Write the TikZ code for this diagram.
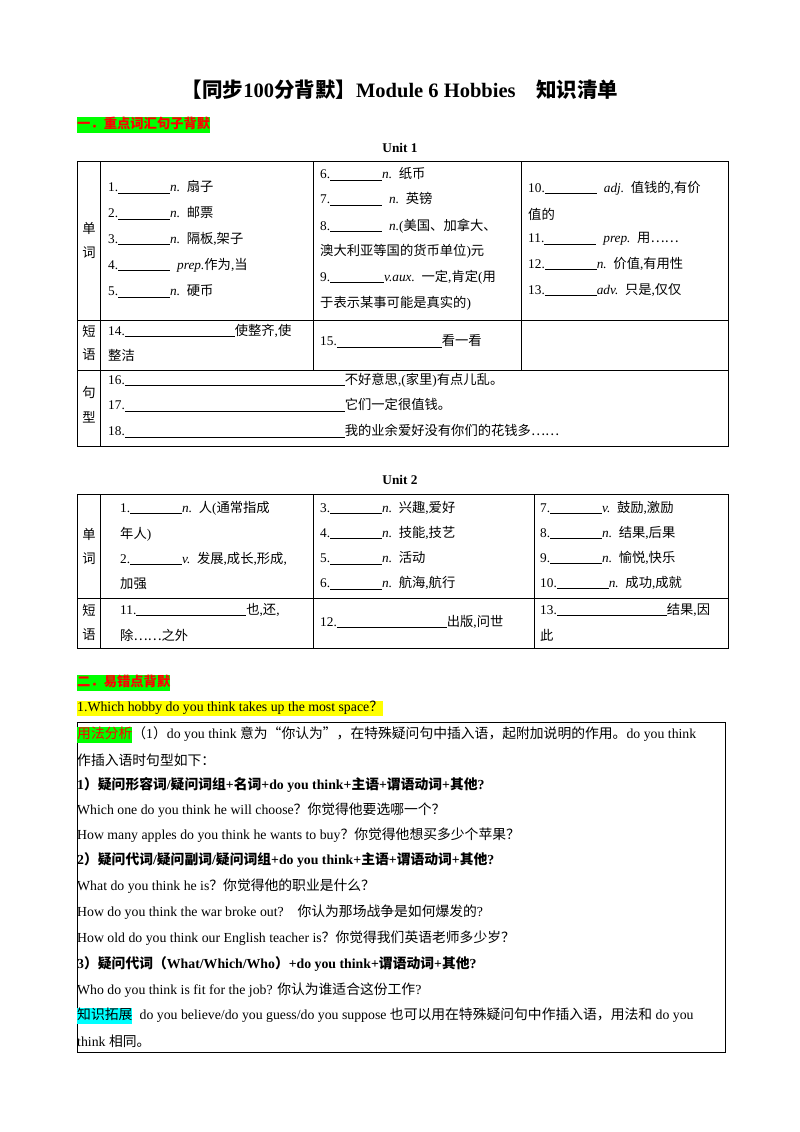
\documentclass[tikz,border=0pt]{standalone}
\usepackage{fontspec}
\setmainfont{Liberation Serif}
\newfontfamily\cjk{Noto Sans CJK SC}
\XeTeXinterchartokenstate=1
\newXeTeXintercharclass\CJKcls
\def\setcls#1#2{\count255=#1 \loop\XeTeXcharclass\count255=\CJKcls \advance\count255 1 \ifnum\count255<#2 \repeat}
\setcls{"4E00}{"9FFF}
\setcls{"3000}{"3040}
\setcls{"FF01}{"FF5F}
\XeTeXcharclass"2026=\CJKcls
\XeTeXcharclass"201C=\CJKcls
\XeTeXcharclass"201D=\CJKcls
\XeTeXinterchartoks 0 \CJKcls={\cjk}
\XeTeXinterchartoks 4095 \CJKcls={\cjk}
\XeTeXinterchartoks \CJKcls 0={\rmfamily}
\XeTeXinterchartoks \CJKcls 4095={\rmfamily}
\newcommand\bl[1]{\rule[-1.5pt]{#1pt}{0.6pt}}
\newcommand\hl[2]{{\fboxsep=0pt\colorbox{#1}{\strut #2}}}
\definecolor{hgreen}{RGB}{0,255,0}
\definecolor{hcyan}{RGB}{0,255,255}
\definecolor{hyel}{RGB}{255,255,0}
\begin{document}
\begin{tikzpicture}[x=1pt,y=-1pt,
  t/.style={anchor=west,inner sep=0pt,font=\fontsize{13.3}{15}\selectfont},
  tb/.style={anchor=west,inner sep=0pt,font=\fontsize{13.8}{15}\selectfont},
  lab/.style={anchor=center,inner sep=0pt,font=\fontsize{13.3}{15}\selectfont},
  grid/.style={draw=black,line width=0.6pt}]
\useasboundingbox[fill=white] (0,0) rectangle (800,1132);
\node[anchor=center,inner sep=0pt,font=\fontsize{20.5}{24}\selectfont\bfseries] (title) at (400,90) {【同步100分背默】Module 6 Hobbies\quad 知识清单};
\node[t,font=\fontsize{13.3}{15}\selectfont\bfseries] (h1) at (77,125) {\hl{hgreen}{\color{red}一．重点词汇句子背默}};
\node[lab,font=\fontsize{13.3}{15}\selectfont\bfseries] (u1) at (400,148) {Unit 1};
% Unit 1 table
\draw[grid] (77,161) rectangle (728,446);
\draw[grid] (77,320) -- (728,320) (77,370) -- (728,370);
\draw[grid] (100,161) -- (100,446) (313,161) -- (313,370) (521,161) -- (521,370);
\node[lab] (a1) at (89,228) {单}; \node[lab] (a2) at (89,253) {词};
\node[lab] (a3) at (89,331) {短}; \node[lab] (a4) at (89,355) {语};
\node[lab] (a5) at (89,392) {句}; \node[lab] (a6) at (89,417) {型};
\node[t] (w1) at (108,187) {1.\bl{52}\textit{n.}\, 扇子};
\node[t] (w2) at (108,213) {2.\bl{52}\textit{n.}\, 邮票};
\node[t] (w3) at (108,239) {3.\bl{52}\textit{n.}\, 隔板,架子};
\node[t] (w4) at (108,265) {4.\bl{52}\; \textit{prep.}作为,当};
\node[t] (w5) at (108,291) {5.\bl{52}\textit{n.}\, 硬币};
\node[t] (w6) at (320,174) {6.\bl{52}\textit{n.}\, 纸币};
\node[t] (w7) at (320,199) {7.\bl{52}\; \textit{n.}\, 英镑};
\node[t] (w8) at (320,226) {8.\bl{52}\; \textit{n.}(美国、加拿大、};
\node[t] (w8b) at (320,251) {澳大利亚等国的货币单位)元};
\node[t] (w9) at (320,277) {9.\bl{54}\textit{v.aux.}\, 一定,肯定(用};
\node[t] (w9b) at (320,303) {于表示某事可能是真实的)};
\node[t] (w10) at (528,188) {10.\bl{52}\; \textit{adj.}\, 值钱的,有价};
\node[t] (w10b) at (528,214) {值的};
\node[t] (w11) at (528,239) {11.\bl{52}\; \textit{prep.}\, 用……};
\node[t] (w12) at (528,264) {12.\bl{52}\textit{n.}\, 价值,有用性};
\node[t] (w13) at (528,290) {13.\bl{52}\textit{adv.}\, 只是,仅仅};
\node[t] (p14) at (108,331) {14.\bl{110}使整齐,使};
\node[t] (p14b) at (108,355) {整洁};
\node[t] (p15) at (320,341) {15.\bl{105}看一看};
\node[t] (s16) at (108,380) {16.\bl{220}不好意思,(家里)有点儿乱。};
\node[t] (s17) at (108,405) {17.\bl{220}它们一定很值钱。};
\node[t] (s18) at (108,431) {18.\bl{220}我的业余爱好没有你们的花钱多……};
% Unit 2
\node[lab,font=\fontsize{13.3}{15}\selectfont\bfseries] (u2) at (400,480) {Unit 2};
\draw[grid] (77,494) rectangle (728,648);
\draw[grid] (77,598) -- (728,598);
\draw[grid] (100,494) -- (100,648) (313,494) -- (313,648) (534,494) -- (534,648);
\node[lab] (b1) at (89,534) {单}; \node[lab] (b2) at (89,559) {词};
\node[lab] (b3) at (89,610) {短}; \node[lab] (b4) at (89,635) {语};
\node[t] (v1) at (120,508) {1.\bl{52}\textit{n.}\, 人(通常指成};
\node[t] (v1b) at (120,534) {年人)};
\node[t] (v2) at (120,559) {2.\bl{52}\textit{v.}\, 发展,成长,形成,};
\node[t] (v2b) at (120,584) {加强};
\node[t] (v3) at (320,508) {3.\bl{52}\textit{n.}\, 兴趣,爱好};
\node[t] (v4) at (320,533) {4.\bl{52}\textit{n.}\, 技能,技艺};
\node[t] (v5) at (320,558) {5.\bl{52}\textit{n.}\, 活动};
\node[t] (v6) at (320,583) {6.\bl{52}\textit{n.}\, 航海,航行};
\node[t] (v7) at (540,508) {7.\bl{52}\textit{v.}\, 鼓励,激励};
\node[t] (v8) at (540,533) {8.\bl{52}\textit{n.}\, 结果,后果};
\node[t] (v9) at (540,558) {9.\bl{52}\textit{n.}\, 愉悦,快乐};
\node[t] (v10) at (540,583) {10.\bl{52}\textit{n.}\, 成功,成就};
\node[t] (q11) at (120,610) {11.\bl{110}也,还,};
\node[t] (q11b) at (120,635) {除……之外};
\node[t] (q12) at (320,622) {12.\bl{110}出版,问世};
\node[t] (q13) at (540,610) {13.\bl{110}结果,因};
\node[t] (q13b) at (540,635) {此};
% Section 2
\node[t,font=\fontsize{13.3}{15}\selectfont\bfseries] (h2) at (77,683) {\hl{hgreen}{\color{red}二．易错点背默}};
\node[tb] (q1) at (77,708) {\hl{hyel}{1.Which hobby do you think takes up the most space？}};
\draw[grid] (77,722) rectangle (725,1052);
\node[tb] (l1) at (77,735) {\hl{hgreen}{\color{red}用法分析}（1）do you think 意为“你认为”，在特殊疑问句中插入语，起附加说明的作用。do you think};
\node[tb] (l2) at (77,760) {作插入语时句型如下：};
\node[tb,font=\fontsize{13.8}{15}\selectfont\bfseries] (l3) at (77,785) {1）疑问形容词/疑问词组+名词+do you think+主语+谓语动词+其他?};
\node[tb] (l4) at (77,810) {Which one do you think he will choose？你觉得他要选哪一个？};
\node[tb] (l5) at (77,835) {How many apples do you think he wants to buy？你觉得他想买多少个苹果？};
\node[tb,font=\fontsize{13.8}{15}\selectfont\bfseries] (l6) at (77,860) {2）疑问代词/疑问副词/疑问词组+do you think+主语+谓语动词+其他?};
\node[tb] (l7) at (77,886) {What do you think he is？你觉得他的职业是什么？};
\node[tb] (l8) at (77,912) {How do you think the war broke out?\quad 你认为那场战争是如何爆发的?};
\node[tb] (l9) at (77,938) {How old do you think our English teacher is？你觉得我们英语老师多少岁？};
\node[tb,font=\fontsize{13.8}{15}\selectfont\bfseries] (l10) at (77,964) {3）疑问代词（What/Which/Who）+do you think+谓语动词+其他?};
\node[tb] (l11) at (77,990) {Who do you think is fit for the job? 你认为谁适合这份工作?};
\node[tb] (l12) at (77,1016) {\hl{hcyan}{知识拓展}\; do you believe/do you guess/do you suppose 也可以用在特殊疑问句中作插入语，用法和 do you};
\node[tb] (l13) at (77,1041) {think 相同。};
\end{tikzpicture}
\end{document}
